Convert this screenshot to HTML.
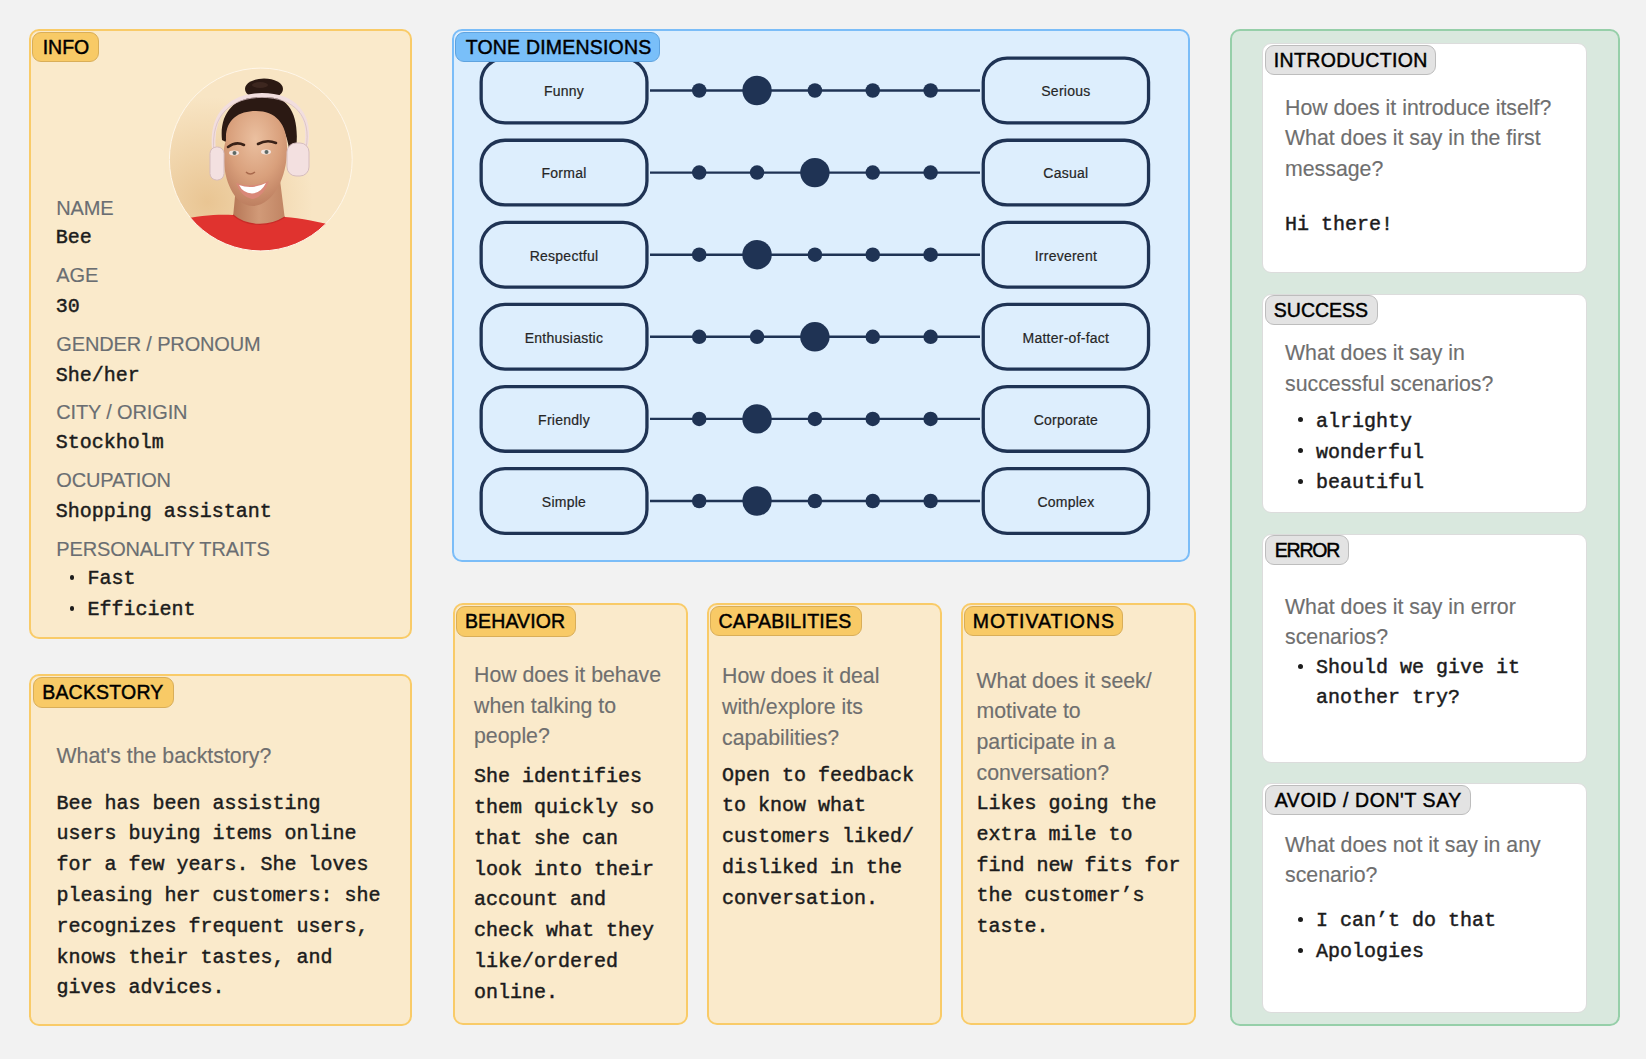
<!DOCTYPE html><html><head><meta charset="utf-8"><title>Persona</title><style>*{margin:0;padding:0;box-sizing:border-box}
html,body{width:1646px;height:1059px;overflow:hidden;background:#F2F2F2;font-family:"Liberation Sans",sans-serif}
.box{position:absolute;border-radius:10px}
.y{background:#FAEACB;border:2px solid #F9CB68}
.b{background:#DDEEFD;border:2px solid #7BBDF8}
.g{background:#D9E8DE;border:2px solid #96CFA9}
.w{background:#FFFFFF;border:1px solid #DCDCDC;border-radius:9px}
.tag{position:absolute;z-index:2;border-radius:9px;font-size:19.5px;text-align:center;color:#000;-webkit-text-stroke:0.45px #000;white-space:nowrap}
.ty{background:#F8CA66;border:1px solid #D9AE58}
.tb{background:#79BFF9;border:1px solid #5FA3DF}
.tg{background:#E3E3E3;border:1px solid #BDBDBD}
.lbl{position:absolute;font-size:20px;line-height:24px;letter-spacing:-0.15px;color:#6A6E72;-webkit-text-stroke:0.15px #6A6E72;white-space:nowrap}
.mono{position:absolute;font-family:"Liberation Mono",monospace;font-size:20px;line-height:30.8px;color:#1C1C1C;-webkit-text-stroke:0.45px #1C1C1C;white-space:nowrap}
.q{position:absolute;font-size:21.3px;line-height:30.75px;color:#6F6F6F;-webkit-text-stroke:0.15px #6F6F6F;white-space:nowrap}
.pl{position:absolute;font-size:14px;line-height:20px;text-align:center;color:#262626;-webkit-text-stroke:0.2px #262626;letter-spacing:0.25px;white-space:nowrap}
.bul{position:absolute;border-radius:50%;background:#1C1C1C}
</style></head><body>
<div class="box y" style="left:29px;top:29px;width:382.5px;height:609.5px;"></div>
<div class="box y" style="left:29px;top:673.5px;width:382.5px;height:352.20000000000005px;"></div>
<div class="box b" style="left:452.2px;top:29.1px;width:738.0999999999999px;height:533.1px;"></div>
<div class="box y" style="left:452.6px;top:602.8px;width:235.39999999999998px;height:422.4000000000001px;"></div>
<div class="box y" style="left:707.2px;top:602.8px;width:234.79999999999995px;height:422.4000000000001px;"></div>
<div class="box y" style="left:961.2px;top:602.8px;width:235.0px;height:422.4000000000001px;"></div>
<div class="box g" style="left:1230.3px;top:29.3px;width:389.29999999999995px;height:996.4000000000001px;"></div>
<div class="box w" style="left:1262.3px;top:42.7px;width:325.20000000000005px;height:230.10000000000002px;"></div>
<div class="box w" style="left:1262.3px;top:293.7px;width:325.20000000000005px;height:219.09999999999997px;"></div>
<div class="box w" style="left:1262.3px;top:533.7px;width:325.20000000000005px;height:229.19999999999993px;"></div>
<div class="box w" style="left:1262.3px;top:783.4px;width:325.20000000000005px;height:229.39999999999998px;"></div>
<div class="tag ty" style="left:32.3px;top:31.5px;width:66.7px;height:30.9px;"><span style="position:absolute;left:9.40px;text-align:left;top:0.25px;line-height:28.9px;letter-spacing:0px">INFO</span></div>
<div class="tag ty" style="left:32.8px;top:677px;width:141.0px;height:30.5px;"><span style="position:absolute;left:8.40px;text-align:left;top:0.05px;line-height:28.5px;letter-spacing:0.2px">BACKSTORY</span></div>
<div class="tag tb" style="left:455.3px;top:31.9px;width:204.7px;height:30.6px;"><span style="position:absolute;left:9.40px;text-align:left;top:-0.20px;line-height:28.6px;letter-spacing:0.2px">TONE DIMENSIONS</span></div>
<div class="tag ty" style="left:455.7px;top:606px;width:120.00000000000006px;height:30.700000000000045px;"><span style="position:absolute;left:8.30px;text-align:left;top:-0.35px;line-height:28.700000000000045px;letter-spacing:0.1px">BEHAVIOR</span></div>
<div class="tag ty" style="left:709.8px;top:606px;width:152.20000000000005px;height:30.299999999999955px;"><span style="position:absolute;left:7.70px;text-align:left;top:0.15px;line-height:28.299999999999955px;letter-spacing:0.29px">CAPABILITIES</span></div>
<div class="tag ty" style="left:963.7px;top:606.2px;width:159.20000000000005px;height:30.199999999999932px;"><span style="position:absolute;left:8.10px;text-align:left;top:-0.30px;line-height:28.199999999999932px;letter-spacing:0.98px">MOTIVATIONS</span></div>
<div class="tag tg" style="left:1264.7px;top:45px;width:171.79999999999995px;height:30.099999999999994px;"><span style="position:absolute;left:8.10px;text-align:left;top:-0.05px;line-height:28.099999999999994px;letter-spacing:0.38px">INTRODUCTION</span></div>
<div class="tag tg" style="left:1265px;top:295.1px;width:112.59999999999991px;height:30.099999999999966px;"><span style="position:absolute;left:7.80px;text-align:left;top:0.05px;line-height:28.099999999999966px;letter-spacing:0px">SUCCESS</span></div>
<div class="tag tg" style="left:1265px;top:535.1px;width:84.40000000000009px;height:30.100000000000023px;"><span style="position:absolute;left:8.70px;text-align:left;top:0.05px;line-height:28.100000000000023px;letter-spacing:-1.2px">ERROR</span></div>
<div class="tag tg" style="left:1265.2px;top:785px;width:205.79999999999995px;height:30.299999999999955px;"><span style="position:absolute;left:8.50px;text-align:left;top:0.05px;line-height:28.299999999999955px;letter-spacing:0.6px">AVOID / DON'T SAY</span></div>
<svg style="position:absolute;left:165px;top:64px" width="192" height="192" viewBox="165 64 192 192">
<defs><clipPath id="cc"><circle cx="260.8" cy="159.5" r="91.4"/></clipPath>
<radialGradient id="bg" cx="0.22" cy="0.72" r="0.55"><stop offset="0" stop-color="#E9C593"/><stop offset="1" stop-color="#F8E5C4"/></radialGradient>
<radialGradient id="face" cx="0.5" cy="0.3" r="0.75"><stop offset="0" stop-color="#EBC0A0"/><stop offset="0.55" stop-color="#D9A07C"/><stop offset="1" stop-color="#B97A5C"/></radialGradient>
<linearGradient id="neck" x1="0" y1="0" x2="1" y2="0"><stop offset="0" stop-color="#B57656"/><stop offset="0.5" stop-color="#D19A78"/><stop offset="1" stop-color="#C08463"/></linearGradient>
</defs>
<g clip-path="url(#cc)">
<rect x="165" y="64" width="192" height="192" fill="url(#bg)"/>
<path d="M236 186 L232 228 L286 228 L280 180 Z" fill="url(#neck)"/>
<ellipse cx="264" cy="89" rx="19" ry="10.5" fill="#2B1913"/><ellipse cx="260" cy="85" rx="8" ry="3" fill="#4A3028" opacity="0.6"/>
<path d="M222 140 C219 112 236 96 262 95 C290 95 300 116 296 150 L290 160 C289 130 278 114 256 112 C236 112 226 124 226 142 Z" fill="#2B1913"/>
<path d="M226 140 C225 120 238 111 256 111 C276 111 288 124 287 150 C287 178 273 205 253 206 C236 206 225 184 224 162 C223 152 224 146 226 140 Z" fill="url(#face)"/>
<path d="M228 147 Q236 141 244 145" stroke="#3A2218" stroke-width="2.6" fill="none" stroke-linecap="round"/>
<path d="M258 144 Q267 139 276 143" stroke="#3A2218" stroke-width="2.6" fill="none" stroke-linecap="round"/>
<ellipse cx="234" cy="153" rx="5" ry="2.4" fill="#F4E6E0"/><circle cx="234.5" cy="153" r="2" fill="#5E6A66"/>
<ellipse cx="266" cy="152" rx="5" ry="2.4" fill="#F4E6E0"/><circle cx="266.5" cy="152" r="2" fill="#5E6A66"/>
<path d="M246 172 Q250 176 255 172" stroke="#A8694C" stroke-width="1.5" fill="none"/>
<path d="M236 183 Q252 189 269 181 Q263 198 252 199 Q241 197 236 183 Z" fill="#D98878"/><path d="M239 185 Q252 190 266 183 Q261 193 252 193.5 Q243 193 239 185 Z" fill="#FFFFFF"/>
<path d="M214 150 C210 112 232 95 262 95 C294 95 312 114 306 146" stroke="#F2DEDE" stroke-width="3.8" fill="none"/>
<path d="M214 150 C210 112 232 95 262 95 C294 95 312 114 306 146" stroke="#D8C0C2" stroke-width="0.8" fill="none" transform="translate(0,2.4)"/>
<rect x="210" y="147" width="14" height="33" rx="6.5" fill="#F3E0E0" stroke="#D5BCBE" stroke-width="1"/>
<rect x="287" y="143" width="22" height="33" rx="9" fill="#F3E0E0" stroke="#D5BCBE" stroke-width="1"/>
<path d="M160 256 L178 220 C200 215 220 214 233 215 C244 225 266 229 285 217 C300 218 320 222 340 227 L360 256 Z" fill="#E0332F"/><path d="M233 215 C244 225 266 229 285 217" stroke="#C92A27" stroke-width="1.2" fill="none"/>
</g>
<circle cx="260.8" cy="159.5" r="91.4" fill="none" stroke="#FFF7EA" stroke-width="1"/>
</svg>
<div class="lbl" style="left:56.30px;top:195.50px;line-height:24px;">NAME</div>
<div class="mono" style="left:55.80px;top:226.10px;line-height:24px;">Bee</div>
<div class="lbl" style="left:56.30px;top:263.30px;line-height:24px;">AGE</div>
<div class="mono" style="left:55.80px;top:294.60px;line-height:24px;">30</div>
<div class="lbl" style="left:56.30px;top:332.10px;line-height:24px;">GENDER / PRONOUM</div>
<div class="mono" style="left:55.80px;top:363.50px;line-height:24px;">She/her</div>
<div class="lbl" style="left:56.30px;top:400.00px;line-height:24px;">CITY / ORIGIN</div>
<div class="mono" style="left:55.80px;top:431.30px;line-height:24px;">Stockholm</div>
<div class="lbl" style="left:56.30px;top:468.40px;line-height:24px;">OCUPATION</div>
<div class="mono" style="left:55.80px;top:499.60px;line-height:24px;">Shopping assistant</div>
<div class="lbl" style="left:56.30px;top:536.70px;line-height:24px;">PERSONALITY TRAITS</div>
<div class="bul" style="left:69.60px;top:574.80px;width:4.8px;height:4.8px"></div>
<div class="bul" style="left:69.60px;top:605.80px;width:4.8px;height:4.8px"></div>
<div class="mono" style="left:87.50px;top:566.90px;line-height:24px;">Fast</div>
<div class="mono" style="left:87.50px;top:597.90px;line-height:24px;">Efficient</div>
<div class="q" style="left:56.50px;top:741.42px;line-height:30.75px;">What's the backtstory?</div>
<div class="mono" style="left:56.50px;top:788.60px;line-height:30.8px;">Bee has been assisting<br>users buying items online<br>for a few years. She loves<br>pleasing her customers: she<br>recognizes frequent users,<br>knows their tastes, and<br>gives advices.</div>
<svg style="position:absolute;left:0;top:0" width="1646" height="1059">
<rect x="481.15" y="58.15" width="165.80" height="64.70" rx="23.85" fill="#DDEEFD" stroke="#1F3354" stroke-width="3.3"/>
<rect x="983.25" y="58.15" width="165.30" height="64.70" rx="23.85" fill="#DDEEFD" stroke="#1F3354" stroke-width="3.3"/>
<line x1="650" y1="90.50" x2="980" y2="90.50" stroke="#1F3354" stroke-width="2.4"/>
<circle cx="699.20" cy="90.50" r="7.25" fill="#1F3354"/>
<circle cx="757.05" cy="90.50" r="14.7" fill="#1F3354"/>
<circle cx="814.90" cy="90.50" r="7.25" fill="#1F3354"/>
<circle cx="872.75" cy="90.50" r="7.25" fill="#1F3354"/>
<circle cx="930.60" cy="90.50" r="7.25" fill="#1F3354"/>
<rect x="481.15" y="140.25" width="165.80" height="64.70" rx="23.85" fill="#DDEEFD" stroke="#1F3354" stroke-width="3.3"/>
<rect x="983.25" y="140.25" width="165.30" height="64.70" rx="23.85" fill="#DDEEFD" stroke="#1F3354" stroke-width="3.3"/>
<line x1="650" y1="172.60" x2="980" y2="172.60" stroke="#1F3354" stroke-width="2.4"/>
<circle cx="699.20" cy="172.60" r="7.25" fill="#1F3354"/>
<circle cx="757.05" cy="172.60" r="7.25" fill="#1F3354"/>
<circle cx="814.90" cy="172.60" r="14.7" fill="#1F3354"/>
<circle cx="872.75" cy="172.60" r="7.25" fill="#1F3354"/>
<circle cx="930.60" cy="172.60" r="7.25" fill="#1F3354"/>
<rect x="481.15" y="222.35" width="165.80" height="64.70" rx="23.85" fill="#DDEEFD" stroke="#1F3354" stroke-width="3.3"/>
<rect x="983.25" y="222.35" width="165.30" height="64.70" rx="23.85" fill="#DDEEFD" stroke="#1F3354" stroke-width="3.3"/>
<line x1="650" y1="254.70" x2="980" y2="254.70" stroke="#1F3354" stroke-width="2.4"/>
<circle cx="699.20" cy="254.70" r="7.25" fill="#1F3354"/>
<circle cx="757.05" cy="254.70" r="14.7" fill="#1F3354"/>
<circle cx="814.90" cy="254.70" r="7.25" fill="#1F3354"/>
<circle cx="872.75" cy="254.70" r="7.25" fill="#1F3354"/>
<circle cx="930.60" cy="254.70" r="7.25" fill="#1F3354"/>
<rect x="481.15" y="304.45" width="165.80" height="64.70" rx="23.85" fill="#DDEEFD" stroke="#1F3354" stroke-width="3.3"/>
<rect x="983.25" y="304.45" width="165.30" height="64.70" rx="23.85" fill="#DDEEFD" stroke="#1F3354" stroke-width="3.3"/>
<line x1="650" y1="336.80" x2="980" y2="336.80" stroke="#1F3354" stroke-width="2.4"/>
<circle cx="699.20" cy="336.80" r="7.25" fill="#1F3354"/>
<circle cx="757.05" cy="336.80" r="7.25" fill="#1F3354"/>
<circle cx="814.90" cy="336.80" r="14.7" fill="#1F3354"/>
<circle cx="872.75" cy="336.80" r="7.25" fill="#1F3354"/>
<circle cx="930.60" cy="336.80" r="7.25" fill="#1F3354"/>
<rect x="481.15" y="386.55" width="165.80" height="64.70" rx="23.85" fill="#DDEEFD" stroke="#1F3354" stroke-width="3.3"/>
<rect x="983.25" y="386.55" width="165.30" height="64.70" rx="23.85" fill="#DDEEFD" stroke="#1F3354" stroke-width="3.3"/>
<line x1="650" y1="418.90" x2="980" y2="418.90" stroke="#1F3354" stroke-width="2.4"/>
<circle cx="699.20" cy="418.90" r="7.25" fill="#1F3354"/>
<circle cx="757.05" cy="418.90" r="14.7" fill="#1F3354"/>
<circle cx="814.90" cy="418.90" r="7.25" fill="#1F3354"/>
<circle cx="872.75" cy="418.90" r="7.25" fill="#1F3354"/>
<circle cx="930.60" cy="418.90" r="7.25" fill="#1F3354"/>
<rect x="481.15" y="468.65" width="165.80" height="64.70" rx="23.85" fill="#DDEEFD" stroke="#1F3354" stroke-width="3.3"/>
<rect x="983.25" y="468.65" width="165.30" height="64.70" rx="23.85" fill="#DDEEFD" stroke="#1F3354" stroke-width="3.3"/>
<line x1="650" y1="501.00" x2="980" y2="501.00" stroke="#1F3354" stroke-width="2.4"/>
<circle cx="699.20" cy="501.00" r="7.25" fill="#1F3354"/>
<circle cx="757.05" cy="501.00" r="14.7" fill="#1F3354"/>
<circle cx="814.90" cy="501.00" r="7.25" fill="#1F3354"/>
<circle cx="872.75" cy="501.00" r="7.25" fill="#1F3354"/>
<circle cx="930.60" cy="501.00" r="7.25" fill="#1F3354"/>
</svg>
<div class="pl" style="left:479.5px;width:169px;top:81.30px">Funny</div>
<div class="pl" style="left:981.6px;width:168.6px;top:81.30px">Serious</div>
<div class="pl" style="left:479.5px;width:169px;top:163.40px">Formal</div>
<div class="pl" style="left:981.6px;width:168.6px;top:163.40px">Casual</div>
<div class="pl" style="left:479.5px;width:169px;top:245.50px">Respectful</div>
<div class="pl" style="left:981.6px;width:168.6px;top:245.50px">Irreverent</div>
<div class="pl" style="left:479.5px;width:169px;top:327.60px">Enthusiastic</div>
<div class="pl" style="left:981.6px;width:168.6px;top:327.60px">Matter-of-fact</div>
<div class="pl" style="left:479.5px;width:169px;top:409.70px">Friendly</div>
<div class="pl" style="left:981.6px;width:168.6px;top:409.70px">Corporate</div>
<div class="pl" style="left:479.5px;width:169px;top:491.80px">Simple</div>
<div class="pl" style="left:981.6px;width:168.6px;top:491.80px">Complex</div>
<div class="q" style="left:474.00px;top:659.83px;line-height:30.75px;">How does it behave<br>when talking to<br>people?</div>
<div class="mono" style="left:474.00px;top:762.30px;line-height:30.8px;">She identifies<br>them quickly so<br>that she can<br>look into their<br>account and<br>check what they<br>like/ordered<br>online.</div>
<div class="q" style="left:722.00px;top:661.12px;line-height:30.75px;">How does it deal<br>with/explore its<br>capabilities?</div>
<div class="mono" style="left:722.00px;top:760.70px;line-height:30.8px;">Open to feedback<br>to know what<br>customers liked/<br>disliked in the<br>conversation.</div>
<div class="q" style="left:976.50px;top:665.52px;line-height:30.75px;">What does it seek/<br>motivate to<br>participate in a<br>conversation?</div>
<div class="mono" style="left:976.50px;top:789.00px;line-height:30.8px;">Likes going the<br>extra mile to<br>find new fits for<br>the customer’s<br>taste.</div>
<div class="q" style="left:1285.00px;top:92.72px;line-height:30.75px;">How does it introduce itself?<br>What does it say in the first<br>message?</div>
<div class="mono" style="left:1285.00px;top:213.30px;line-height:24px;">Hi there!</div>
<div class="q" style="left:1285.00px;top:338.32px;line-height:30.75px;">What does it say in<br>successful scenarios?</div>
<div class="bul" style="left:1298.20px;top:417.40px;width:5px;height:5px"></div>
<div class="mono" style="left:1316.00px;top:409.60px;line-height:24px;">alrighty</div>
<div class="bul" style="left:1298.20px;top:448.30px;width:5px;height:5px"></div>
<div class="mono" style="left:1316.00px;top:440.50px;line-height:24px;">wonderful</div>
<div class="bul" style="left:1298.20px;top:479.20px;width:5px;height:5px"></div>
<div class="mono" style="left:1316.00px;top:471.40px;line-height:24px;">beautiful</div>
<div class="q" style="left:1285.00px;top:591.52px;line-height:30.75px;">What does it say in error<br>scenarios?</div>
<div class="bul" style="left:1298.20px;top:663.70px;width:5px;height:5px"></div>
<div class="mono" style="left:1316.00px;top:652.50px;line-height:30.8px;">Should we give it<br>another try?</div>
<div class="q" style="left:1285.00px;top:829.73px;line-height:30.75px;">What does not it say in any<br>scenario?</div>
<div class="bul" style="left:1298.20px;top:917.10px;width:5px;height:5px"></div>
<div class="mono" style="left:1316.00px;top:909.30px;line-height:24px;">I can’t do that</div>
<div class="bul" style="left:1298.20px;top:947.90px;width:5px;height:5px"></div>
<div class="mono" style="left:1316.00px;top:940.10px;line-height:24px;">Apologies</div>
</body></html>
